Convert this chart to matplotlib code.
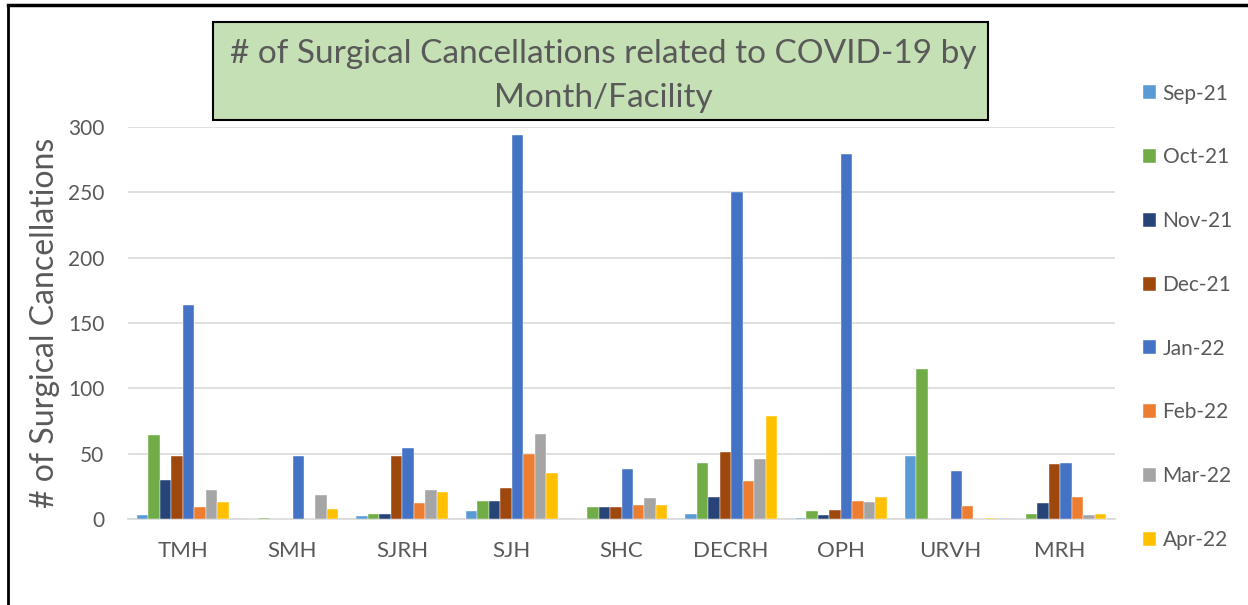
import matplotlib
matplotlib.use("Agg")
import matplotlib.pyplot as plt
import numpy as np
from matplotlib.patches import Rectangle
from matplotlib.lines import Line2D

plt.rcParams['font.family'] = ['Lato', 'DejaVu Sans']

facilities = ["TMH", "SMH", "SJRH", "SJH", "SHC", "DECRH", "OPH", "URVH", "MRH"]
months = ["Sep-21", "Oct-21", "Nov-21", "Dec-21", "Jan-22", "Feb-22", "Mar-22", "Apr-22"]

sep21 = [3, 0, 2, 6, 0, 4, 1, 48, 0]
oct21 = [64, 1, 4, 14, 9, 43, 6, 115, 4]
nov21 = [30, 0, 4, 14, 9, 17, 3, 0, 12]
dec21 = [48, 0, 48, 24, 9, 51, 7, 0, 42]
jan22 = [164, 48, 54, 294, 38, 250, 279, 37, 43]
feb22 = [9, 0, 12, 50, 11, 29, 14, 10, 17]
mar22 = [22, 18, 22, 65, 16, 46, 13, 0, 3]
apr22 = [13, 8, 21, 35, 11, 79, 17, 1, 4]

series = [sep21, oct21, nov21, dec21, jan22, feb22, mar22, apr22]
colors = ["#5b9bd5", "#70ad47", "#264478", "#9e480e", "#4472c4", "#ed7d31", "#a5a5a5", "#ffc000"]

W, H = 1248, 605
fig = plt.figure(figsize=(W / 100, H / 100), dpi=100)
fig.patch.set_facecolor("white")

ax = fig.add_axes([128 / W, 1 - 519 / H, (1115 - 128) / W, (519 - 127) / H])

x = np.arange(len(facilities))
bw = 11.5 / 110
handles = []
for i, (vals, c, m) in enumerate(zip(series, colors, months)):
    b = ax.bar(x + (i - 3.5) * bw, vals, width=bw, color=c, label=m,
               edgecolor="white", linewidth=0.3, zorder=3)
    handles.append(b)

ax.set_xlim(-0.5, len(facilities) - 0.5)
ax.set_ylim(0, 300)
ax.set_yticks(np.arange(0, 301, 50))
ax.set_xticks(x)
ax.set_xticklabels(facilities)
ax.grid(axis="y", color="#d9d9d9", linewidth=1.2, zorder=0)
for s in ["top", "right", "left"]:
    ax.spines[s].set_visible(False)
ax.spines["bottom"].set_color("#d9d9d9")
ax.spines["bottom"].set_linewidth(1.2)
ax.tick_params(axis="both", length=0, labelcolor="#595959")
ax.tick_params(axis="y", pad=17, labelsize=15)
ax.tick_params(axis="x", pad=16, labelsize=16)
ax.set_ylabel("# of Surgical Cancellations", fontsize=23, color="#595959", labelpad=6)

leg = ax.legend(handles=handles, loc="upper left", bbox_to_anchor=(1124 / W, 1 - 65 / H),
                bbox_transform=fig.transFigure, frameon=False, fontsize=15,
                labelspacing=2.1, handlelength=0.65, handleheight=0.65, handletextpad=0.3)
for t in leg.get_texts():
    t.set_color("#595959")

# title box
fig.add_artist(Rectangle((213 / W, 1 - 120 / H), (988 - 213) / W, (120 - 22) / H,
                         transform=fig.transFigure, facecolor="#c5e0b4",
                         edgecolor="black", linewidth=1.5, zorder=5))
fig.text(603 / W, 1 - 76 / H, "# of Surgical Cancellations related to COVID-19 by\nMonth/Facility",
         ha="center", va="center", fontsize=24, color="#595959", linespacing=1.55, zorder=6)

# outer frame (partially visible)
fig.add_artist(Line2D([8 / W, 8 / W], [0, 1 - 5 / H], transform=fig.transFigure, color="black", linewidth=2))
fig.add_artist(Line2D([8 / W, 1], [1 - 5 / H, 1 - 5 / H], transform=fig.transFigure, color="black", linewidth=2.5))

fig.savefig("out.png", dpi=100)
